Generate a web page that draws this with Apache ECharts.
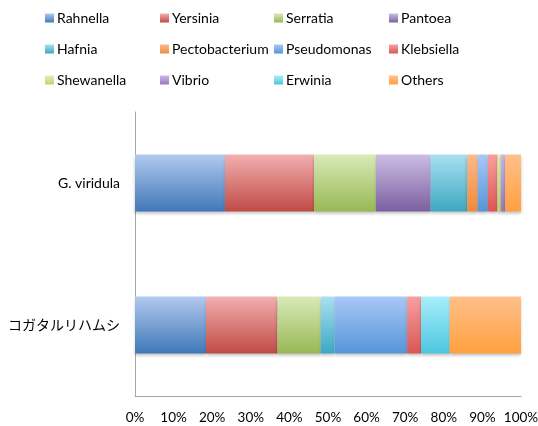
<!DOCTYPE html>
<html>
<head>
<meta charset="utf-8">
<script src="https://cdn.jsdelivr.net/npm/echarts@6/dist/echarts.min.js"></script>
<style>
    html, body { margin: 0; padding: 0; background: #fff; }
    #chart { width: 538px; height: 426px; }
</style>
</head>
<body>
<div id="chart"></div>
<script>
    // categories, top to bottom
    var categories = ['G. viridula', 'コガタルリハムシ']
    var genera = ['Rahnella', 'Yersinia', 'Serratia', 'Pantoea',
        'Hafnia', 'Pectobacterium', 'Pseudomonas', 'Klebsiella',
        'Shewanella', 'Vibrio', 'Erwinia', 'Others']
    // percent share per genus, same order as genera
    var viridula = [23.3, 23.1, 16.0, 14.2, 9.5, 2.7, 2.6, 2.5, 0.9, 1.1, 0, 4.1]
    var kogata = [18.4, 18.5, 11.2, 0, 3.6, 0, 18.8, 3.6, 0, 0, 7.4, 18.5]
    var xTicks = [0, 10, 20, 30, 40, 50, 60, 70, 80, 90, 100]

    // light top / dark bottom, like the office gradient fill
    var colors = [
        ['#b2c9ee', '#3f78b8'],
        ['#f2b0b0', '#c04a45'],
        ['#d8eab8', '#98b855'],
        ['#cbbde3', '#7c5fa0'],
        ['#a9e0f0', '#3da8c2'],
        ['#fbb98a', '#f08a3c'],
        ['#a9c8f7', '#5595d8'],
        ['#f7a0a0', '#dc5555'],
        ['#e0f0b0', '#b8d870'],
        ['#cbb8e8', '#9878c0'],
        ['#a8eefa', '#4cc6e0'],
        ['#ffc08a', '#ffa040']
    ]

    var series = []
    genera.forEach(function (name, i) {
        series.push({
            name: name,
            type: 'bar',
            stack: 'total',
            barWidth: 57,
            data: [viridula[i], kogata[i]],
            itemStyle: {
                color: new echarts.graphic.LinearGradient(0, 0, 0, 1, [
                    {offset: 0, color: colors[i][0]},
                    {offset: 1, color: colors[i][1]}
                ]),
                shadowColor: 'rgba(0,0,0,0.25)',
                shadowBlur: 3,
                shadowOffsetY: 2
            }
        })
    })

    // legend: 4 columns x 3 rows
    var legendLeft = [45, 160, 274, 389]
    var legends = legendLeft.map(function (left, col) {
        return {
            orient: 'vertical',
            left: left,
            top: 11,
            itemWidth: 9,
            itemHeight: 9,
            itemGap: 17,
            padding: 0,
            icon: 'rect',
            selectedMode: false,
            data: [genera[col], genera[col + 4], genera[col + 8]],
            textStyle: {fontFamily: 'Lato', fontSize: 14, color: '#000', lineHeight: 14, padding: [0, 0, 0, -2]}
        }
    })

    var chart = echarts.init(document.getElementById('chart'))
    chart.setOption({
        animation: false,
        legend: legends,
        grid: {left: 135, right: 17, top: 112, bottom: 30, containLabel: false, outerBoundsMode: 'none'},
        xAxis: {
            type: 'value',
            min: 0,
            max: 100,
            interval: 10,
            axisLine: {show: true, lineStyle: {color: '#a6a6a6', width: 1}},
            axisTick: {show: false},
            splitLine: {show: false},
            axisLabel: {
                margin: 15,
                color: '#000',
                fontFamily: 'Lato',
                fontSize: 13.5,
                formatter: '{value}%'
            }
        },
        yAxis: {
            type: 'category',
            inverse: true,
            data: categories,
            axisLine: {show: true, lineStyle: {color: '#a6a6a6', width: 1}},
            axisTick: {show: false},
            axisLabel: {
                margin: 15,
                color: '#000',
                fontFamily: "Lato, 'Noto Sans CJK JP'",
                fontSize: 14
            }
        },
        series: series
    })
</script>
</body>
</html>
